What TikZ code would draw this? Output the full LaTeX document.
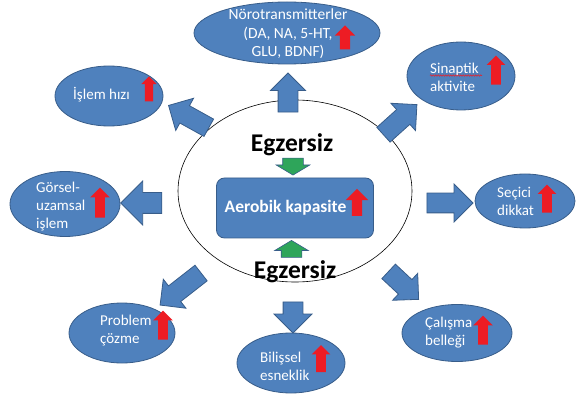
\documentclass[tikz,border=0pt]{standalone}
\usepackage{fontspec}
\setmainfont{Carlito}
\usetikzlibrary{shapes.geometric,shapes.arrows,decorations.pathmorphing}
\definecolor{boxblue}{RGB}{79,129,189}
\definecolor{edgeblue}{RGB}{56,93,138}
\definecolor{upred}{RGB}{237,28,36}
\definecolor{exgreen}{RGB}{46,165,90}
\newcommand{\lblfont}{\fontsize{15}{18}\selectfont}
\newcommand{\exfont}{\fontsize{25.5}{28}\selectfont\bfseries}

\begin{document}
\begin{tikzpicture}[x=1pt,y=1pt,
  main node/.style={ellipse,fill=boxblue,draw=edgeblue,line width=0.8pt,inner sep=0pt},
  main text/.style={text=white,align=left,inner sep=0pt,font=\lblfont},
  block arrow/.style={single arrow,fill=boxblue,draw=edgeblue,line width=0.8pt,inner xsep=0pt,
    inner ysep=9.5pt,single arrow head extend=8.5pt,single arrow tip angle=90},
  up mark/.style={single arrow,fill=upred,inner xsep=0pt,inner ysep=4.75pt,rotate=90,
    minimum height=29pt,single arrow head extend=5pt,single arrow tip angle=90},
  green arrow/.style={single arrow,fill=exgreen,draw=edgeblue,line width=0.6pt,inner xsep=0pt,
    inner ysep=10pt,minimum height=17pt,single arrow head extend=6.5pt,single arrow tip angle=118}]

\useasboundingbox (0,0) rectangle (581,-398);

\draw[line width=0.6pt] (295,-191) ellipse (117 and 91);
\node[main node,rectangle,rounded corners=8pt,minimum width=157pt,minimum height=60pt] (c) at (295,-208) {};
\node[text=white,inner sep=0pt,font=\fontsize{17.5}{19}\selectfont\bfseries] (ct) at (285.5,-208) {Aerobik kapasite};
\node[up mark,inner ysep=5pt,single arrow head extend=6pt,minimum height=27pt] (u8) at (357,-205) {};

\node[font=\exfont,inner sep=0pt] (x0) at (292,-144.5) {Egzersiz};
\node[font=\exfont,inner sep=0pt] (x1) at (295,-272) {Egzersiz};
\node[green arrow,rotate=270] (g0) at (293,-163.5) {};
\node[green arrow,rotate=90] (g1) at (291.5,-252) {};

\node[main node,minimum width=186pt,minimum height=62pt] (e0) at (287,-33) {};
\node[main node,minimum width=108pt,minimum height=60pt] (e1) at (109,-96) {};
\node[main node,minimum width=110pt,minimum height=65pt] (e2) at (65,-204) {};
\node[main node,minimum width=108pt,minimum height=68pt] (e3) at (461,-76) {};
\node[main node,minimum width=100pt,minimum height=54pt] (e4) at (525,-201) {};
\node[main node,minimum width=106pt,minimum height=60pt] (e5) at (122,-333) {};
\node[main node,minimum width=108pt,minimum height=60pt] (e6) at (291,-363) {};
\node[main node,minimum width=110pt,minimum height=57pt] (e7) at (457,-333) {};

\node[main text,align=center,font=\fontsize{15.5}{18.5}\selectfont] (t0) at (288,-34) {Nörotransmitterler\\(DA, NA, 5-HT,\\GLU, BDNF)};
\node[main text,anchor=west] (t1) at (73,-95) {İşlem hızı};
\node[main text,anchor=west] (t2) at (36,-207) {Görsel-\\uzamsal\\işlem};
\node[main text,anchor=west] (t3) at (430,-77.5) {Sinaptik\\aktivite};
\node[main text,anchor=west] (t4) at (497,-201) {Seçici\\dikkat};
\node[main text,anchor=west] (t5) at (100,-331) {Problem\\çözme};
\node[main text,anchor=west] (t6) at (260,-366) {Bilişsel\\esneklik};
\node[main text,anchor=west] (t7) at (425,-333) {Çalışma\\belleği};
\draw[upred,line width=0.5pt,decorate,decoration={snake,amplitude=0.8pt,segment length=2.5pt}]
  (t3.north west) ++(0,-12.5) -- ++(52,0);

\node[up mark,minimum height=24pt,inner ysep=5pt] (u0) at (345,-40) {};
\node[up mark,minimum height=25pt,inner ysep=4pt,single arrow head extend=3.5pt] (u1) at (149,-91) {};
\node[up mark,minimum height=30pt] (u2) at (100,-205) {};
\node[up mark,single arrow head extend=4.5pt] (u3) at (496,-72.5) {};
\node[up mark,minimum height=28pt,single arrow head extend=4.5pt] (u4) at (547,-201) {};
\node[up mark] (u5) at (163,-327.5) {};
\node[up mark,minimum height=27pt,single arrow head extend=4.5pt] (u6) at (321,-361) {};
\node[up mark] (u7) at (483,-332.5) {};

\node[block arrow,rotate=90,minimum height=39pt,single arrow head extend=7.5pt] (a0) at (288,-97.5) {};
\node[block arrow,rotate=151,minimum height=46pt] (a1) at (193,-119) {};
\node[block arrow,rotate=180,minimum height=41pt,inner ysep=10pt,single arrow head extend=11.5pt] (a2) at (146.5,-203) {};
\node[block arrow,rotate=42,minimum height=45pt] (a3) at (396.5,-123) {};
\node[block arrow,rotate=0,minimum height=46pt,single arrow head extend=9pt] (a4) at (445,-203) {};
\node[block arrow,rotate=218,minimum height=52pt] (a5) at (184.5,-286) {};
\node[block arrow,rotate=270,minimum height=31pt,single arrow head extend=9pt] (a6) at (293,-312.5) {};
\node[block arrow,rotate=-43,minimum height=41pt] (a7) at (400,-282) {};
\end{tikzpicture}
\end{document}
